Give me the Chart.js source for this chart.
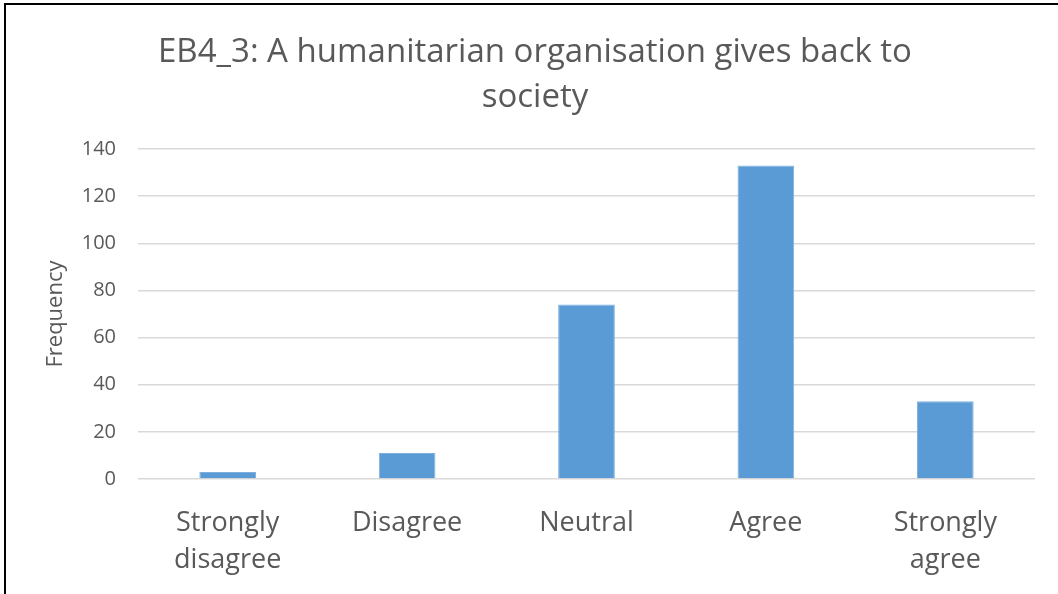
<!DOCTYPE html><html lang="en"><head>
    <script src="https://cdn.jsdelivr.net/npm/chart.js@4.4.0/dist/chart.umd.min.js"></script>
    <meta charset="utf-8">
    <style>
      body { margin: 0; background: #fff; }
      #wrap { position: relative; width: 1058px; height: 594px; overflow: hidden; }
      #frame { position: absolute; left: 4px; top: 3px; width: 1100px; height: 700px;
               border-left: 2px solid #000; border-top: 2px solid #000; }
      #myChart { position: absolute; left: 0; top: 0; }
    </style>
  </head>
  <body>
    <div id="wrap">
      <div id="frame"></div>
      <canvas id="myChart" width="1058" height="594"></canvas>
    </div>
    <script>
      const titleLines = ['EB4_3: A humanitarian organisation gives back to', 'society'];
      const categories = ['Strongly disagree', 'Disagree', 'Neutral', 'Agree', 'Strongly agree'];
      const frequency = [3, 11, 74, 133, 33];
      const yTicks = [0, 20, 40, 60, 80, 100, 120, 140];

      const grey = '#595959';
      const ctx = document.getElementById('myChart').getContext('2d');
      const myChart = new Chart(ctx, {
        type: 'bar',
        data: {
          labels: categories,
          datasets: [{
            label: 'Frequency',
            data: frequency,
            backgroundColor: '#5b9bd5',
            borderColor: '#7fb0dd',
            borderWidth: 1,
            barPercentage: 0.316,
            categoryPercentage: 1
          }]
        },
        options: {
          responsive: false,
          animation: false,
          layout: { padding: { left: 35, right: 23, top: 20, bottom: 0 } },
          plugins: {
            legend: { display: false },
            tooltip: { enabled: false },
            title: {
              display: true,
              text: titleLines,
              color: grey,
              font: { family: 'Open Sans', size: 33, weight: 'normal', lineHeight: 1.364 },
              padding: { top: 10, bottom: 29 }
            }
          },
          scales: {
            x: {
              grid: { display: false },
              border: { display: false },
              ticks: {
                color: grey,
                font: { family: 'Open Sans', size: 27, lineHeight: 1.4 },
                padding: 17,
                maxRotation: 0,
                autoSkip: false,
                callback: function (v) { return this.getLabelForValue(v).split(' '); }
              },
              afterFit: (s) => { s.height = 115; }
            },
            y: {
              min: 0,
              max: 140,
              afterBuildTicks: (s) => { s.ticks = yTicks.map(v => ({ value: v })); },
              grid: { color: '#d9d9d9', lineWidth: 1.5, drawTicks: false },
              border: { display: false },
              ticks: {
                color: grey,
                font: { family: 'Open Sans', size: 20 },
                padding: 22
              },
              title: {
                display: true,
                text: 'Frequency',
                color: grey,
                font: { family: 'Open Sans', size: 22 },
                padding: { top: 8, bottom: 0 }
              },
              afterFit: (s) => { s.width = 103; }
            }
          }
        }
      });
    </script>
</body></html>
